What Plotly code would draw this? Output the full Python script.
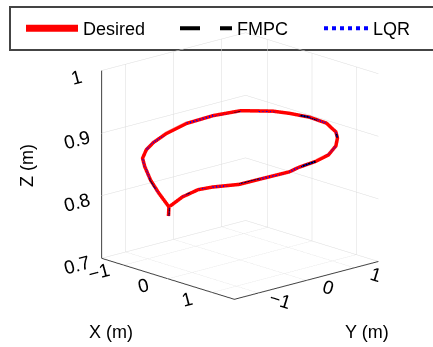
import plotly.graph_objects as go

# Trajectory points (x, y in m; z in m)
x_desired = [0.00, 0.01, -0.24, -0.49, -0.75, -1.02, -1.27, -1.40, -1.48, -1.47, -1.33, -1.09,
             -0.69, -0.42, -0.04, 0.39, 0.81, 1.02, 1.19, 1.37, 1.47, 1.48, 1.46, 1.27, 1.09,
             0.77, 0.55, 0.28, 0.04]
y_desired = [-1.49, -1.49, -1.47, -1.41, -1.29, -1.09, -0.78, -0.52, -0.17, 0.24, 0.67, 1.02,
             1.32, 1.43, 1.49, 1.44, 1.25, 1.09, 0.90, 0.58, 0.22, -0.14, -0.32, -0.77, -1.02,
             -1.28, -1.38, -1.46, -1.49]
z_desired = [0.800, 0.815, 0.831, 0.845, 0.858, 0.862, 0.864, 0.867, 0.873, 0.881, 0.888, 0.894,
             0.896, 0.896, 0.897, 0.898, 0.897, 0.895, 0.890, 0.886, 0.885, 0.883, 0.879, 0.872, 0.865,
             0.859, 0.852, 0.836, 0.817]

# Tracked trajectories overlap the desired one in the picture
x_fmpc = list(x_desired); y_fmpc = list(y_desired); z_fmpc = list(z_desired)
x_lqr = list(x_desired); y_lqr = list(y_desired); z_lqr = list(z_desired)

xy_ticks = [-1, 0, 1]
xy_ticktext = ["\u22121", "0", "1"]
z_ticks = [0.7, 0.8, 0.9, 1.0]
z_ticktext = ["0.7", "0.8", "0.9", "1"]

FONT = "Liberation Sans, Arial, sans-serif"
W, H = 433, 347

fig = go.Figure()
fig.add_trace(go.Scatter3d(x=x_fmpc, y=y_fmpc, z=z_fmpc, mode="lines", name="FMPC",
                           line=dict(color="black", width=4, dash="longdash"), legend="legend2"))
fig.add_trace(go.Scatter3d(x=x_lqr, y=y_lqr, z=z_lqr, mode="lines", name="LQR",
                           line=dict(color="blue", width=4, dash="dot"), legend="legend3"))
fig.add_trace(go.Scatter3d(x=x_desired, y=y_desired, z=z_desired, mode="lines", name="Desired",
                           line=dict(color="#ff0000", width=7), legend="legend"))

def axis_style(ticklen):
    return dict(showbackground=False, gridcolor="#dcdcdc", gridwidth=1,
                showline=True, linecolor="#404040", linewidth=2,
                ticks="outside", ticklen=ticklen, tickcolor="rgba(0,0,0,0)",
                tickfont=dict(family=FONT, size=15, color="black"),
                zeroline=False, showspikes=False, title=dict(text=""))

def leg(xpx, iw):
    return dict(orientation="h", x=xpx / W, y=1 - 28.5 / H, xanchor="left", yanchor="middle",
                borderwidth=0, font=dict(family=FONT, size=18, color="black"),
                bgcolor="rgba(0,0,0,0)", itemwidth=iw)

fig.update_layout(
    width=W, height=H,
    margin=dict(l=0, r=0, t=0, b=0),
    paper_bgcolor="white",
    font=dict(family=FONT, size=17, color="black"),
    showlegend=True,
    legend=leg(21, 52),
    legend2=leg(175, 52),
    legend3=leg(319, 44),
    shapes=[dict(type="rect", xref="paper", yref="paper",
                 x0=10 / W, x1=1.02, y0=1 - 50 / H, y1=1 - 7 / H,
                 line=dict(color="#444444", width=2), fillcolor="rgba(0,0,0,0)", layer="below")],
    scene=dict(
        domain=dict(x=[0.1085, 1.0], y=[0.043, 1.0]),
        xaxis=dict(range=[-1.5, 1.5], tickvals=xy_ticks, ticktext=xy_ticktext, **axis_style(14)),
        yaxis=dict(range=[-1.5, 1.5], tickvals=xy_ticks, ticktext=xy_ticktext, **axis_style(16)),
        zaxis=dict(range=[0.7, 1.0], tickvals=z_ticks, ticktext=z_ticktext, **axis_style(30)),
        aspectmode="manual", aspectratio=dict(x=1.18, y=1.18, z=1.18),
        camera=dict(projection=dict(type="orthographic"),
                    eye=dict(x=1.41, y=-1.30, z=0.57),
                    center=dict(x=0, y=0, z=0), up=dict(x=0, y=0, z=1)),
    ),
)
ann = [
    dict(text="Z (m)", px=27, py=166, angle=-90),
    dict(text="X (m)", px=111, py=332, angle=0),
    dict(text="Y (m)", px=367, py=332, angle=0),
]
for a in ann:
    fig.add_annotation(text=a["text"], x=a["px"] / W, y=1 - a["py"] / H, xref="paper", yref="paper",
                       showarrow=False, textangle=a["angle"], font=dict(size=18),
                       xanchor="center", yanchor="middle")

fig.write_html("out.html")
